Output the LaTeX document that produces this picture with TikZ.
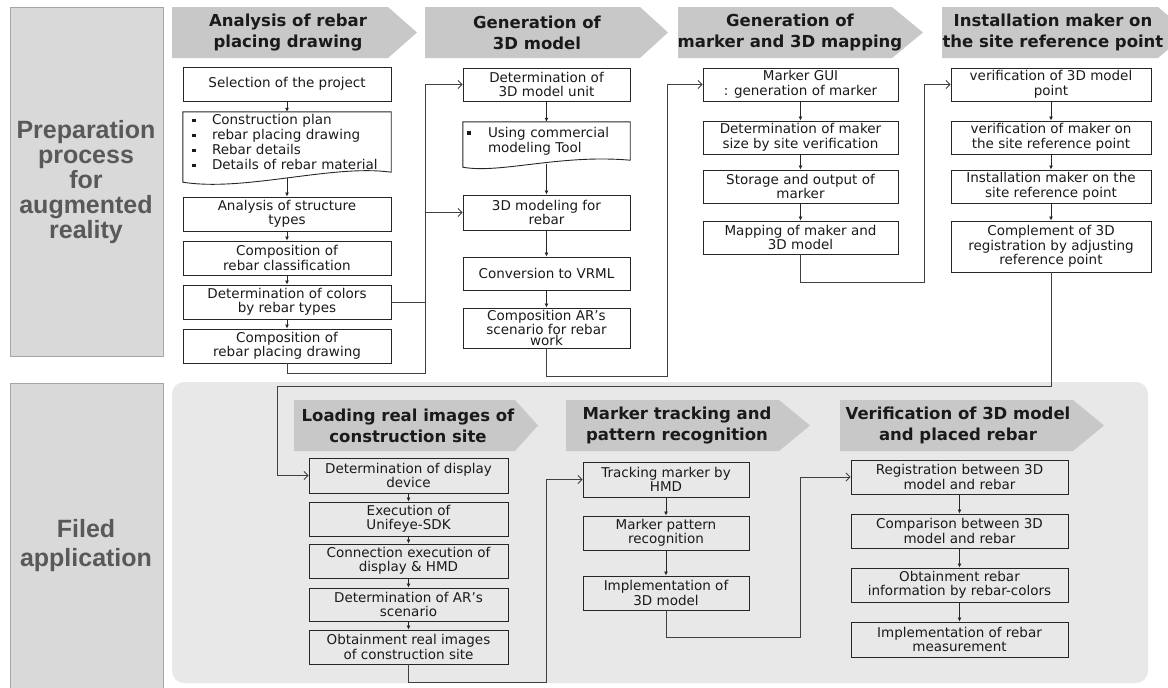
\documentclass[tikz,border=0pt]{standalone}
\usepackage{fontspec}
\setmainfont{DejaVu Sans}
\newfontfamily\lblfont{Liberation Sans}
\usetikzlibrary{arrows.meta}

\definecolor{lblgray}{HTML}{D9D9D9}
\definecolor{lbledge}{HTML}{A6A6A6}
\definecolor{lbltext}{HTML}{595959}
\definecolor{hdrgray}{HTML}{C8C8C8}
\definecolor{panelgray}{HTML}{E8E8E8}
\definecolor{edge}{HTML}{262626}
\definecolor{wire}{HTML}{404040}
\definecolor{ink}{HTML}{1A1A1A}

\newcommand\bul{\makebox[20pt][l]{\rule[2.5pt]{3.5pt}{3.5pt}}}

\tikzset{
  stepbox/.style={draw=edge, line width=0.9pt, inner sep=0pt, align=center, text=ink,
    font=\fontsize{13.5}{14.5}\selectfont},
  docbox/.style={inner sep=0pt, align=left, text=ink, font=\fontsize{13.5}{15}\selectfont},
  hdrtext/.style={inner sep=0pt, align=center, text=ink, font=\bfseries\fontsize{16.5}{21}\selectfont},
  lbltext/.style={inner sep=0pt, align=center, text=lbltext, font=\lblfont\bfseries\fontsize{25}{25}\selectfont},
  flow/.style={draw=edge, line width=0.8pt, -{Latex[length=4pt,width=4pt]}},
  link/.style={draw=wire, line width=0.8pt, -{Straight Barb[length=4pt,width=8pt]}},
  doc/.style={draw=edge, line width=0.9pt},
}

\begin{document}
\begin{tikzpicture}[x=1pt, y=-1pt]
\useasboundingbox (0,0) rectangle (1168,688);
\begin{scope}
\clip (0,0) rectangle (1168,688);

% left labels and lower panel
\draw[fill=lblgray, draw=lbledge, line width=0.8pt] (10,7) rectangle (163,356);
\draw[fill=lblgray, draw=lbledge, line width=0.8pt] (10,383) rectangle (163,700);
\fill[panelgray, rounded corners=12pt] (172,382) rectangle (1148,683);
\node[lbltext] (prep) at (86,182) {Preparation\\process\\for\\augmented\\reality};
\node[lbltext, font=\lblfont\bfseries\fontsize{25}{29}\selectfont] (filed) at (86,546) {Filed\\application};

% header arrows
\fill[hdrgray] (172,7) -- (388,7) -- (417,32.5) -- (388,58) -- (172,58) -- cycle;
\fill[hdrgray] (425,7) -- (640,7) -- (668,32.5) -- (640,58) -- (425,58) -- cycle;
\fill[hdrgray] (678,7) -- (892,7) -- (923,32.5) -- (892,58) -- (678,58) -- cycle;
\fill[hdrgray] (942,7) -- (1158,7) -- (1188,32.5) -- (1158,58) -- (942,58) -- cycle;
\fill[hdrgray] (294,400) -- (515,400) -- (538,425.5) -- (515,451) -- (294,451) -- cycle;
\fill[hdrgray] (566,400) -- (779,400) -- (810,425.5) -- (779,451) -- (566,451) -- cycle;
\fill[hdrgray] (840,400) -- (1073,400) -- (1104,425.5) -- (1073,451) -- (840,451) -- cycle;
\node[hdrtext] (h1) at (288,32.5) {Analysis of rebar\\placing drawing};
\node[hdrtext] (h2) at (537,32.5) {Generation of\\3D model};
\node[hdrtext] (h3) at (790,32.5) {Generation of\\marker and 3D mapping};
\node[hdrtext] (h4) at (1053,32.5) {Installation maker on\\the site reference point};
\node[hdrtext] (h5) at (408,425.5) {Loading real images of\\construction site};
\node[hdrtext] (h6) at (677,425.5) {Marker tracking and\\pattern recognition};
\node[hdrtext] (h7) at (958,425.5) {Verification of 3D model\\and placed rebar};
\end{scope}

% analysis of rebar placing drawing
\node[stepbox, minimum width=208pt, minimum height=34pt] (A1) at (287,84) {Selection of the project};
\node[docbox, minimum width=208pt, minimum height=60pt, text width=190pt] (A2) at (287,142)
  {\bul Construction plan\\\bul rebar placing drawing\\\bul Rebar details\\\bul Details of rebar material};
\draw[doc] (A2.south west) -- (A2.north west) -- (A2.north east) -- (A2.south east)
  .. controls (332,164) and (245,192) .. ([yshift=-10pt]A2.south west) -- cycle;
\node[stepbox, minimum width=208pt, minimum height=34pt] (A3) at (287,214) {Analysis of structure\\types};
\node[stepbox, minimum width=208pt, minimum height=34pt] (A4) at (287,258) {Composition of\\rebar classification};
\node[stepbox, minimum width=208pt, minimum height=34pt] (A5) at (287,302) {Determination of colors\\by rebar types};
\node[stepbox, minimum width=208pt, minimum height=34pt] (A6) at (287,346) {Composition of\\rebar placing drawing};

% generation of 3D model
\node[stepbox, minimum width=167pt, minimum height=33pt] (B1) at (546.5,84.5) {Determination of\\3D model unit};
\node[docbox, minimum width=167pt, minimum height=38pt, text width=159pt] (B2) at (546.5,141)
  {\bul\hspace{1pt}Using commercial\\\hspace*{21pt}modeling Tool};
\draw[doc] (B2.south west) -- (B2.north west) -- (B2.north east) -- (B2.south east)
  .. controls (560,154) and (500,174) .. ([yshift=-7pt]B2.south west) -- cycle;
\node[stepbox, minimum width=167pt, minimum height=35pt] (B3) at (546.5,212.5) {3D modeling for\\rebar};
\node[stepbox, minimum width=167pt, minimum height=33pt] (B4) at (546.5,273.5) {Conversion to VRML};
\node[stepbox, minimum width=167pt, minimum height=40pt, font=\fontsize{13.5}{11.5}\selectfont] (B5) at (546.5,328)
  {Composition AR’s\\scenario for rebar\\work};

% generation of marker and 3D mapping
\node[stepbox, minimum width=195pt, minimum height=33pt] (C1) at (800.5,84.5) {Marker GUI\\: generation of marker};
\node[stepbox, minimum width=195pt, minimum height=33pt] (C2) at (800.5,137.5) {Determination of maker\\size by site verification};
\node[stepbox, minimum width=195pt, minimum height=33pt] (C3) at (800.5,186.5) {Storage and output of\\marker};
\node[stepbox, minimum width=195pt, minimum height=33pt] (C4) at (800.5,237.5) {Mapping of maker and\\3D model};

% installation maker on the site reference point
\node[stepbox, minimum width=200pt, minimum height=33pt] (D1) at (1051,84.5) {verification of 3D model\\point};
\node[stepbox, minimum width=200pt, minimum height=33pt] (D2) at (1051,137.5) {verification of maker on\\the site reference point};
\node[stepbox, minimum width=200pt, minimum height=33pt] (D3) at (1051,186.5) {Installation maker on the\\site reference point};
\node[stepbox, minimum width=200pt, minimum height=51pt] (D4) at (1051,246.5) {Complement of 3D\\registration by adjusting\\reference point};

% loading real images of construction site
\node[stepbox, minimum width=199pt, minimum height=35pt] (L1) at (408.5,475.5) {Determination of display\\device};
\node[stepbox, minimum width=199pt, minimum height=34pt] (L2) at (408.5,519) {Execution of\\Unifeye-SDK};
\node[stepbox, minimum width=199pt, minimum height=34pt] (L3) at (408.5,561) {Connection execution of\\display \& HMD};
\node[stepbox, minimum width=199pt, minimum height=33pt] (L4) at (408.5,604.5) {Determination of AR’s\\scenario};
\node[stepbox, minimum width=199pt, minimum height=34pt] (L5) at (408.5,647) {Obtainment real images\\of construction site};

% marker tracking and pattern recognition
\node[stepbox, minimum width=166pt, minimum height=35pt] (M1) at (666,479.5) {Tracking marker by\\HMD};
\node[stepbox, minimum width=166pt, minimum height=34pt] (M2) at (666,533) {Marker pattern\\recognition};
\node[stepbox, minimum width=166pt, minimum height=34pt] (M3) at (666,593) {Implementation of\\3D model};

% verification of 3D model and placed rebar
\node[stepbox, minimum width=217pt, minimum height=34pt] (V1) at (959.5,477) {Registration between 3D\\model and rebar};
\node[stepbox, minimum width=217pt, minimum height=34pt] (V2) at (959.5,531) {Comparison between 3D\\model and rebar};
\node[stepbox, minimum width=217pt, minimum height=34pt] (V3) at (959.5,585) {Obtainment rebar\\information by rebar-colors};
\node[stepbox, minimum width=217pt, minimum height=35pt] (V4) at (959.5,639.5) {Implementation of rebar\\measurement};

% steps inside each stage
\draw[flow] (A1) -- (A2);
\draw[flow] ([yshift=-6pt]A2.south) -- (A3);
\draw[flow] (A3) -- (A4);
\draw[flow] (A4) -- (A5);
\draw[flow] (A5) -- (A6);
\draw[flow] (B1) -- (B2);
\draw[flow] ([yshift=-4pt]B2.south) -- (B3);
\draw[flow] (B3) -- (B4);
\draw[flow] (B4) -- (B5);
\draw[flow] (C1) -- (C2);
\draw[flow] (C2) -- (C3);
\draw[flow] (C3) -- (C4);
\draw[flow] (D1) -- (D2);
\draw[flow] (D2) -- (D3);
\draw[flow] (D3) -- (D4);
\draw[flow] (L1) -- (L2);
\draw[flow] (L2) -- (L3);
\draw[flow] (L3) -- (L4);
\draw[flow] (L4) -- (L5);
\draw[flow] (M1) -- (M2);
\draw[flow] (M2) -- (M3);
\draw[flow] (V1) -- (V2);
\draw[flow] (V2) -- (V3);
\draw[flow] (V3) -- (V4);

% links between stages
\coordinate (j1) at (425,373);
\coordinate (j2) at (667,376);
\coordinate (j3) at (924,282);
\coordinate (j4) at (277,386);
\coordinate (j5) at (546,682);
\coordinate (j6) at (800,637);
\draw[link] (A6.south) |- (j1) |- (B1.west);
\draw[link] (A5.east) -- (A5.east -| j1) |- (B3.west);
\draw[link] (B5.south) |- (j2) |- (C1.west);
\draw[link] (C4.south) |- (j3) |- (D1.west);
\draw[link] (D4.south) |- (j4) |- (L1.west);
\draw[link] (L5.south) |- (j5) |- (M1.west);
\draw[link] (M3.south) |- (j6) |- (V1.west);
\end{tikzpicture}
\end{document}
